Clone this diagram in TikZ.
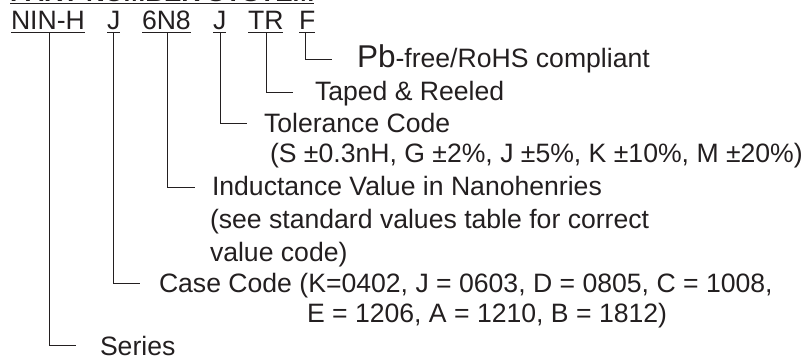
\documentclass[tikz,border=0pt]{standalone}
\usepackage{fontspec}
\setmainfont{Liberation Sans}
\definecolor{ink}{HTML}{231F20}
\begin{document}
\begin{tikzpicture}[x=1pt,y=-1pt,
  txt/.style={anchor=base west, inner sep=0pt, outer sep=0pt, text=ink, font=\fontsize{26.6}{30}\selectfont},
  lead/.style={draw=ink, line width=0.9pt},
  uline/.style={draw=ink, line width=1.2pt}]
\useasboundingbox (0,0) rectangle (807,356);
% title (mostly cut off at the top)
\node[txt, font=\bfseries\fontsize{26}{30}\selectfont] (title) at (10,1.3) {PART NUMBER SYSTEM};
\draw[uline, line width=1.5pt] ([yshift=-2pt]title.base west) -- ([yshift=-2pt]title.base east);
% codes
\node[txt] (c1) at (11,29.5) {NIN-H};
\node[txt] (c2) at (107,29.5) {J};
\node[txt] (c3) at (142,29.5) {6N8};
\node[txt] (c4) at (213,29.5) {J};
\node[txt] (c5) at (248,29.5) {TR};
\node[txt] (c6) at (299,29.5) {F};
\foreach \n in {c1,c2,c3,c4,c5,c6}{
  \draw[uline] ([yshift=-3pt]\n.base west) -- ([yshift=-3pt]\n.base east);
}
% labels
\node[txt] (l6) at (357,67) {{\fontsize{31.5}{36}\selectfont Pb}-free/RoHS compliant};
\node[txt] (l5) at (315,100) {Taped \& Reeled};
\node[txt] (l4) at (264,132) {Tolerance Code};
\node[txt] (l4b) at (270,162) {(S ±0.3nH, G ±2\%, J ±5\%, K ±10\%, M ±20\%)};
\node[txt] (l3) at (212,195) {Inductance Value in Nanohenries};
\node[txt] (l3b) at (210,228) {(see standard values table for correct};
\node[txt] (l3c) at (210,261) {value code)};
\node[txt] (l2) at (159,292) {Case Code (K=0402, J = 0603, D = 0805, C = 1008,};
\node[txt] (l2b) at (307,322) {E = 1206, A = 1210, B = 1812)};
\node[txt] (l1) at (100,355) {Series};
% leader start and end points
\coordinate (s1) at (49,32.5);  \coordinate (e1) at (76,345);
\coordinate (s2) at (113,32.5); \coordinate (e2) at (140,283);
\coordinate (s3) at (167,32.5); \coordinate (e3) at (195,187);
\coordinate (s4) at (220,32.5); \coordinate (e4) at (247,123);
\coordinate (s5) at (266,32.5); \coordinate (e5) at (293,92);
\coordinate (s6) at (305,32.5); \coordinate (e6) at (332,59.5);
\foreach \i in {1,...,6}{
  \draw[lead] (s\i) |- (e\i);
}
\end{tikzpicture}
\end{document}
